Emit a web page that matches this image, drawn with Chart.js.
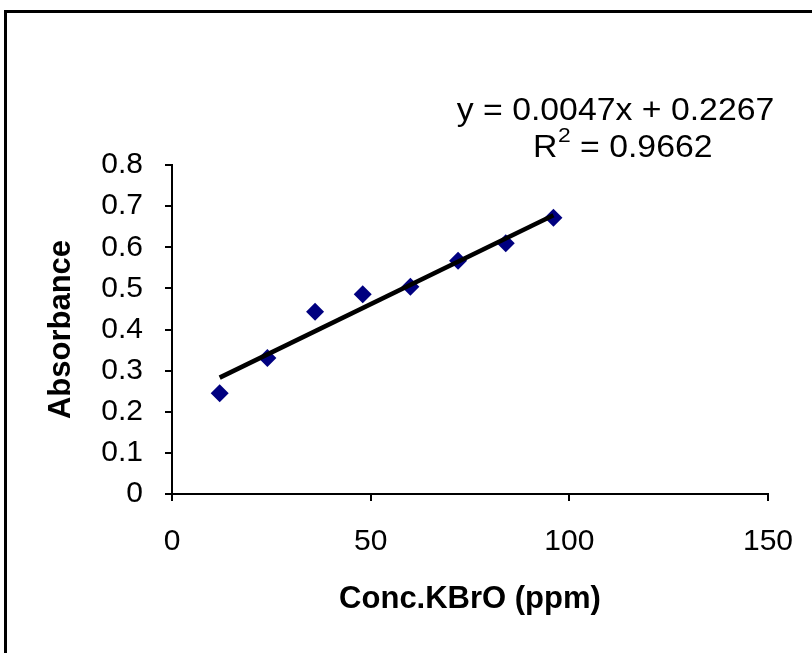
<!DOCTYPE html>
<html>
<head>
<meta charset="utf-8">
<script src="https://cdn.jsdelivr.net/npm/chart.js@4.4.1/dist/chart.umd.min.js"></script>
<style>
  html, body { margin: 0; padding: 0; background: #fff; }
  #wrap { width: 812px; height: 653px; position: relative; }
</style>
</head>
<body>
<div id="wrap"><canvas id="myChart" width="812" height="653"></canvas></div>
<script>
// data
const concValues = [12, 24, 36, 48, 60, 72, 84, 96];
const absorbance = [0.245, 0.331, 0.443, 0.486, 0.504, 0.567, 0.610, 0.672];
const trendX = [12, 96];
const trendY = [0.283, 0.678];
const equationText = 'y = 0.0047x + 0.2267';
const r2Value = '0.9662';

const font = '"Liberation Sans", Arial, Helvetica, sans-serif';

const points = concValues.map((x, i) => ({ x: x, y: absorbance[i] }));
const trend = trendX.map((x, i) => ({ x: x, y: trendY[i] }));

// frame + trendline label (text is a bit wide in the original, so stretch it)
const stretch = 1.09;
const extras = {
    id: 'extras',
    beforeDraw(chart) {
        const c = chart.ctx;
        c.save();
        c.fillStyle = '#fff';
        c.fillRect(0, 0, chart.width, chart.height);
        c.strokeStyle = '#000';
        c.lineWidth = 3;
        c.strokeRect(5.5, 11.5, 1000, 1000);
        c.restore();
    },
    afterDraw(chart) {
        const c = chart.ctx;
        c.save();
        c.fillStyle = '#000';
        c.textBaseline = 'alphabetic';
        c.textAlign = 'left';

        c.font = '31px ' + font;
        let w = c.measureText(equationText).width * stretch;
        c.save();
        c.translate(615.5 - w / 2, 120);
        c.scale(stretch, 1);
        c.fillText(equationText, 0, 0);
        c.restore();

        // R² line
        const a = 'R', b = '2', rest = ' = ' + r2Value;
        c.save();
        c.translate(533, 157);
        c.scale(stretch, 1);
        c.font = '31px ' + font;
        const wA = c.measureText(a).width;
        c.fillText(a, 0, 0);
        c.font = '21px ' + font;
        const wB = c.measureText(b).width;
        c.fillText(b, wA + 0.5, -15);
        c.font = '31px ' + font;
        c.fillText(rest, wA + wB + 0.5, 0);
        c.restore();
        c.restore();
    }
};

const ctx = document.getElementById('myChart');

new Chart(ctx, {
    type: 'scatter',
    data: {
        datasets: [{
            label: 'Linear',
            type: 'line',
            data: trend,
            borderColor: '#000',
            borderWidth: 4.5,
            pointRadius: 0,
            fill: false,
        }, {
            label: 'Absorbance',
            data: points,
            backgroundColor: '#000080',
            borderColor: '#000080',
            borderWidth: 0,
            pointStyle: 'rectRot',
            pointRadius: 9,
            pointHoverRadius: 9,
        }]
    },
    options: {
        responsive: false,
        animation: false,
        events: [],
        layout: { padding: { left: 43, top: 165, right: 44, bottom: 35 } },
        plugins: {
            legend: { display: false },
            tooltip: { enabled: false },
        },
        scales: {
            x: {
                type: 'linear',
                min: 0, max: 150,
                afterFit: s => { s.height = 124; s.paddingRight = 26; s.paddingLeft = 10; },
                ticks: { stepSize: 50, color: '#000', padding: 23, font: { family: font, size: 30 } },
                grid: { display: true, drawOnChartArea: false, drawTicks: true, tickLength: 7, color: '#000', lineWidth: 2 },
                border: { display: true, color: '#000', width: 2 },
                title: { display: true, text: 'Conc.KBrO (ppm)', color: '#000', padding: 0, font: { family: font, size: 31, weight: 'bold' } },
            },
            y: {
                type: 'linear',
                min: 0, max: 0.8,
                afterFit: s => { s.width = 129; },
                ticks: { stepSize: 0.1, color: '#000', padding: 22, font: { family: font, size: 30 } },
                grid: { display: true, drawOnChartArea: false, drawTicks: true, tickLength: 7, color: '#000', lineWidth: 2 },
                border: { display: true, color: '#000', width: 2 },
                title: { display: true, text: 'Absorbance', color: '#000', padding: 0, font: { family: font, size: 31, weight: 'bold' } },
            }
        }
    },
    plugins: [extras]
});
</script>
</body>
</html>
